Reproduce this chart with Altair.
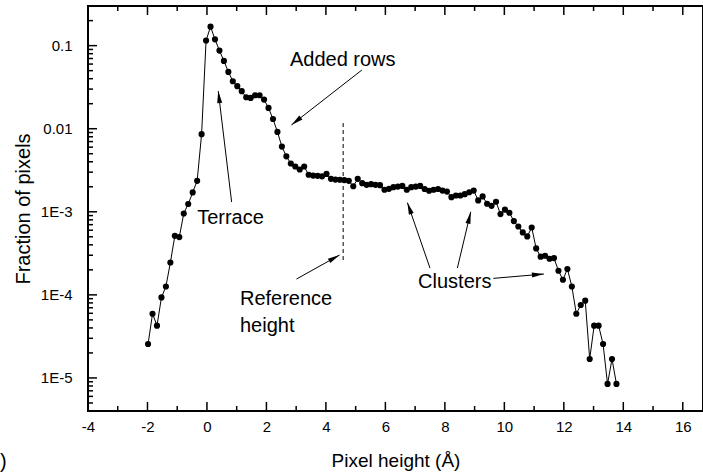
import math
import altair as alt
import pandas as pd

FONT = "Liberation Sans"

# ---- data ----
heights = [
    -1.98, -1.83, -1.68, -1.53, -1.38, -1.23, -1.08, -0.93, -0.78, -0.63,
    -0.48, -0.33, -0.18, -0.03, 0.12, 0.27, 0.42, 0.57, 0.72, 0.87,
    1.02, 1.17, 1.32, 1.47, 1.62, 1.77, 1.92, 2.07, 2.22, 2.37,
    2.52, 2.67, 2.82, 2.97, 3.12, 3.27, 3.42, 3.57, 3.72, 3.87,
    4.02, 4.17, 4.32, 4.47, 4.62, 4.77, 4.92, 5.07, 5.22, 5.37,
    5.52, 5.67, 5.82, 5.97, 6.12, 6.27, 6.42, 6.57, 6.72, 6.87,
    7.02, 7.17, 7.32, 7.47, 7.62, 7.77, 7.92, 8.07, 8.22, 8.37,
    8.52, 8.67, 8.82, 8.97, 9.12, 9.27, 9.42, 9.57, 9.72, 9.87,
    10.02, 10.17, 10.32, 10.47, 10.62, 10.77, 10.92, 11.07, 11.22, 11.37,
    11.52, 11.67, 11.82, 11.97, 12.12, 12.27, 12.42, 12.57, 12.72, 12.87,
    13.02, 13.17, 13.32, 13.47, 13.62, 13.77,
]
fractions = [
    2.56e-5, 5.93e-5, 4.26e-5, 9.31e-5, 1.26e-4, 2.45e-4, 5.14e-4, 4.96e-4, 9.54e-4, 1.24e-3,
    1.71e-3, 2.36e-3, 8.60e-3, 0.115, 0.169, 0.119, 0.0871, 0.0655, 0.0483, 0.0373,
    0.0325, 0.0283, 0.0239, 0.0235, 0.0253, 0.0253, 0.0224, 0.0178, 0.0131, 9.16e-3,
    6.10e-3, 4.65e-3, 3.81e-3, 3.51e-3, 3.23e-3, 3.51e-3, 2.79e-3, 2.73e-3, 2.71e-3, 2.67e-3,
    2.86e-3, 2.49e-3, 2.44e-3, 2.43e-3, 2.41e-3, 2.36e-3, 2.03e-3, 2.49e-3, 2.21e-3, 2.11e-3,
    2.15e-3, 2.11e-3, 2.09e-3, 1.84e-3, 1.89e-3, 1.98e-3, 2.01e-3, 2.05e-3, 1.84e-3, 1.98e-3,
    2.01e-3, 2.05e-3, 1.88e-3, 1.79e-3, 1.84e-3, 1.88e-3, 1.80e-3, 1.75e-3, 1.50e-3, 1.57e-3,
    1.57e-3, 1.63e-3, 1.72e-3, 1.80e-3, 1.37e-3, 1.53e-3, 1.25e-3, 1.18e-3, 1.32e-3, 9.38e-4,
    1.06e-3, 9.73e-4, 7.73e-4, 6.65e-4, 5.64e-4, 5.05e-4, 6.47e-4, 3.62e-4, 2.88e-4, 2.96e-4,
    2.72e-4, 2.77e-4, 1.95e-4, 1.52e-4, 2.05e-4, 1.26e-4, 5.93e-5, 7.55e-5, 8.51e-5, 1.69e-5,
    4.26e-5, 4.26e-5, 2.56e-5, 8.47e-6, 1.69e-5, 8.47e-6,
]

ann_text = ["Added rows", "Terrace", "Reference", "height", "Clusters"]
ann_x = [2.79, -0.33, 1.11, 1.11, 7.10]
ann_y = [0.0569, 7.13e-4, 7.55e-5, 3.57e-5, 1.21e-4]

arrow_tail_x = [5.21, 0.83, 3.01, 7.50, 8.42, 9.63]
arrow_tail_y = [0.0509, 1.31e-3, 1.55e-4, 2.10e-4, 2.10e-4, 1.58e-4]
arrow_tip_x = [2.84, 0.38, 4.46, 6.74, 8.87, 11.33]
arrow_tip_y = [0.0111, 0.0284, 3.02e-4, 1.29e-3, 1.00e-3, 1.78e-4]

ref_x = [4.58]
ref_top = [0.0117]
ref_bottom = [2.52e-4]

x_major = [-4, -2, 0, 2, 4, 6, 8, 10, 12, 14, 16]
x_minor = [-3, -1, 1, 3, 5, 7, 9, 11, 13, 15]
y_major = [1e-5, 1e-4, 1e-3, 1e-2, 1e-1]
y_minor = [5e-6, 6e-6, 7e-6, 8e-6, 9e-6,
           2e-5, 3e-5, 4e-5, 5e-5, 6e-5, 7e-5, 8e-5, 9e-5,
           2e-4, 3e-4, 4e-4, 5e-4, 6e-4, 7e-4, 8e-4, 9e-4,
           2e-3, 3e-3, 4e-3, 5e-3, 6e-3, 7e-3, 8e-3, 9e-3,
           0.02, 0.03, 0.04, 0.05, 0.06, 0.07, 0.08, 0.09, 0.2]

# ---- layout ----
W, H = 615, 405
XDOM = [-4, 16.68]
YDOM = [4e-6, 0.3]


def to_px(x, y):
    px = (x - XDOM[0]) / (XDOM[1] - XDOM[0]) * W
    ly0, ly1 = math.log10(YDOM[0]), math.log10(YDOM[1])
    py = (ly1 - math.log10(y)) / (ly1 - ly0) * H
    return px, py


angles = []
for tx, ty, hx, hy in zip(arrow_tail_x, arrow_tail_y, arrow_tip_x, arrow_tip_y):
    ax, ay = to_px(tx, ty)
    bx, by = to_px(hx, hy)
    angles.append(math.degrees(math.atan2(bx - ax, -(by - ay))) % 360)

xs = alt.Scale(domain=XDOM, nice=False, zero=False)
ys = alt.Scale(type="log", domain=YDOM, nice=False)

xaxis = alt.Axis(values=x_major, labelExpr="'' + datum.value", ticks=False, tickSize=0,
                 domain=False, grid=False,
                 labelFont=FONT, labelFontSize=15, labelColor="black", labelPadding=8,
                 labelFlush=False, labelOverlap=False,
                 title="Pixel height (Å)", titleFont=FONT, titleFontSize=19,
                 titleFontWeight="normal", titleColor="black",
                 titleY=55, titleBaseline="alphabetic")
yaxis = alt.Axis(values=y_major, ticks=False, tickSize=0, domain=False, grid=False,
                 labelExpr="datum.value > 0.05 ? '0.1' : datum.value > 0.005 ? '0.01' : "
                           "datum.value > 0.0005 ? '1E-3' : datum.value > 0.00005 ? '1E-4' : '1E-5'",
                 labelFont=FONT, labelFontSize=15, labelColor="black", labelPadding=16,
                 labelOverlap=False,
                 title="Fraction of pixels", titleFont=FONT, titleFontSize=20,
                 titleFontWeight="normal", titleColor="black",
                 titleAngle=270, titleX=-59, titleY=H / 2, titleBaseline="alphabetic",
                 titleAlign="center")

X = alt.X("x:Q", scale=xs, axis=xaxis)
Y = alt.Y("y:Q", scale=ys, axis=yaxis)

df = pd.DataFrame({"x": heights, "y": fractions})
line = alt.Chart(df).mark_line(color="black", strokeWidth=1).encode(x=X, y=Y)
pts = alt.Chart(df).mark_circle(color="black", size=38, opacity=1).encode(x=X, y=Y)

df_xmaj = pd.DataFrame({"x": x_major})
df_xmin = pd.DataFrame({"x": x_minor})
df_ymaj = pd.DataFrame({"y": y_major})
df_ymin = pd.DataFrame({"y": y_minor})

tick_style = dict(color="black", strokeWidth=1.5)
bt_maj = alt.Chart(df_xmaj).mark_rule(**tick_style).encode(x=X, y=alt.value(H), y2=alt.value(H - 9))
bt_min = alt.Chart(df_xmin).mark_rule(**tick_style).encode(x=X, y=alt.value(H), y2=alt.value(H - 5))
tp_maj = alt.Chart(df_xmaj).mark_rule(**tick_style).encode(x=X, y=alt.value(0), y2=alt.value(9))
tp_min = alt.Chart(df_xmin).mark_rule(**tick_style).encode(x=X, y=alt.value(0), y2=alt.value(5))
lf_maj = alt.Chart(df_ymaj).mark_rule(**tick_style).encode(y=Y, x=alt.value(0), x2=alt.value(9))
lf_min = alt.Chart(df_ymin).mark_rule(**tick_style).encode(y=Y, x=alt.value(0), x2=alt.value(5))

df_ref = pd.DataFrame({"x": ref_x, "y": ref_top, "y2": ref_bottom})
ref = alt.Chart(df_ref).mark_rule(color="black", strokeWidth=1, strokeDash=[4, 3]).encode(
    x=X, y=Y, y2="y2:Q")

df_arrow = pd.DataFrame({"x": arrow_tail_x, "y": arrow_tail_y,
                         "x2": arrow_tip_x, "y2": arrow_tip_y})
shafts = alt.Chart(df_arrow).mark_rule(color="black", strokeWidth=1).encode(
    x=X, y=Y, x2="x2:Q", y2="y2:Q")

df_heads = pd.DataFrame({"x": arrow_tip_x, "y": arrow_tip_y, "ang": angles})
heads = alt.Chart(df_heads).mark_point(
    shape="M0,0 L-0.42,2 L0.42,2 Z", filled=True, size=144, color="black", opacity=1
).encode(x=X, y=Y, angle=alt.Angle("ang:Q", scale=None))

df_ann = pd.DataFrame({"x": ann_x, "y": ann_y, "t": ann_text})
ann = alt.Chart(df_ann).mark_text(
    align="left", baseline="alphabetic", font=FONT, fontSize=20, color="black"
).encode(x=X, y=Y, text="t:N")

df_corner = pd.DataFrame({"x": [-6.96], "y": [9.7e-7], "t": [")"]})
corner = alt.Chart(df_corner).mark_text(
    align="left", baseline="middle", font=FONT, fontSize=20, color="black"
).encode(x=X, y=Y, text="t:N")

chart = alt.layer(
    line, pts, bt_maj, bt_min, tp_maj, tp_min, lf_maj, lf_min,
    ref, shafts, heads, ann, corner
).properties(
    width=W, height=H,
    autosize=alt.AutoSizeParams(type="none"),
    padding={"left": 88, "top": 6, "right": 0, "bottom": 65},
    background="white",
).configure_view(stroke="black", strokeWidth=2)

chart.save("out.html", embed_options={"renderer": "svg", "actions": False})
